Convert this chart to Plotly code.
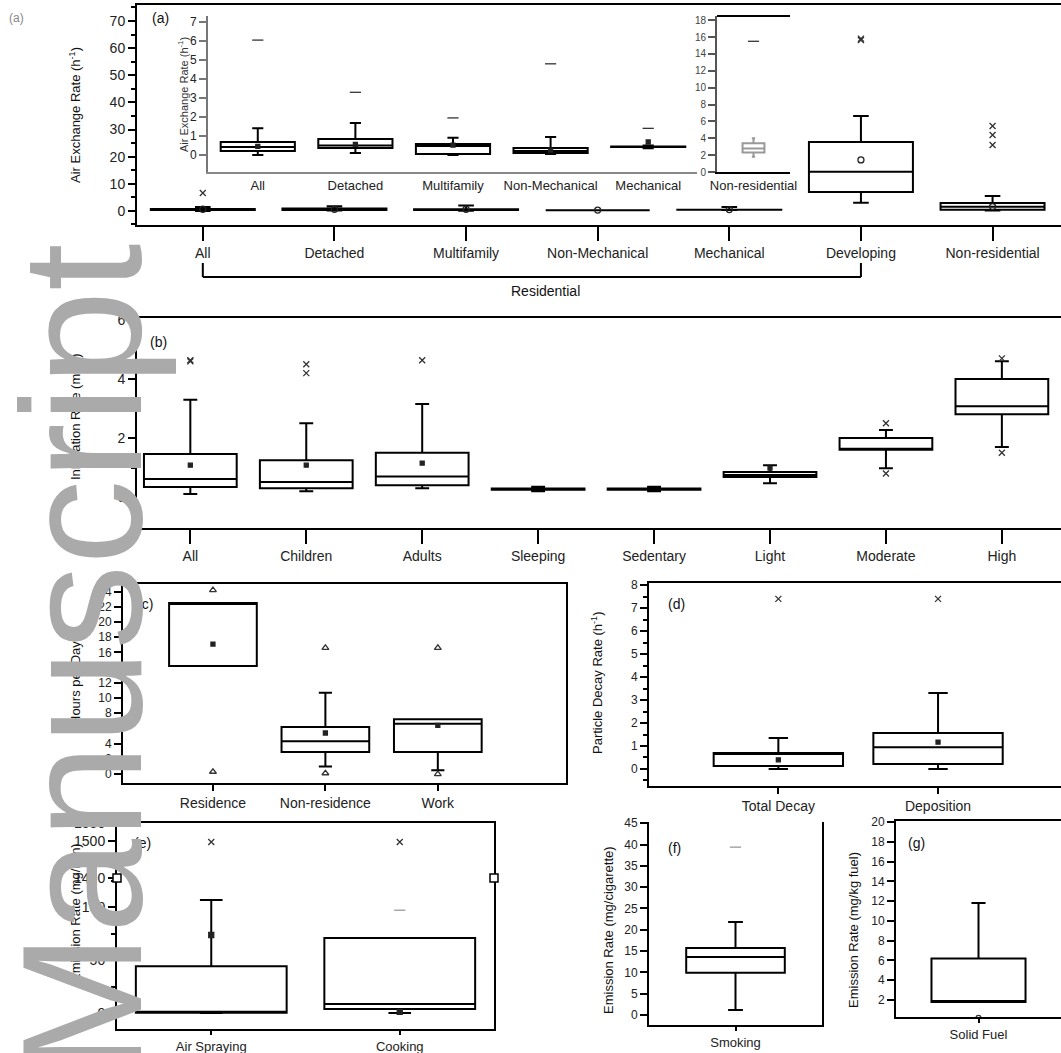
import plotly.graph_objects as go

W, H = 1061, 1053
FONT = "Liberation Sans"

# ---------------- data ----------------
# (a) air exchange rate, main axis
a_cats = ["All", "Detached", "Multifamily", "Non-Mechanical", "Mechanical", "Developing", "Non-residential"]
a_q1 = [0.3, 0.3, 0.3, 0.3, 0.4, 7.0, 0.4]
a_med = [0.45, 0.5, 0.47, 0.25, 0.42, 14.4, 1.5]
a_q3 = [0.7, 0.85, 0.6, 0.4, 0.45, 25.4, 2.9]
a_low = [0.0, 0.1, 0.05, 0.05, 0.3, 3.0, 0.1]
a_up = [1.4, 1.7, 1.95, 0.95, 1.4, 35.0, 5.5]
a_mean = [0.6, 0.6, 0.6, 0.3, 0.5, 18.8, 1.6]
a_out_x = ["All", "Developing", "Developing", "Non-residential", "Non-residential", "Non-residential"]
a_out_y = [6.6, 63.5, 63.0, 24.3, 28.0, 31.3]

# (a) inset, residential categories
ai_cats = ["All", "Detached", "Multifamily", "Non-Mechanical", "Mechanical"]
ai_q1 = [0.21, 0.37, 0.05, 0.1, 0.42]
ai_med = [0.42, 0.5, 0.47, 0.2, 0.42]
ai_q3 = [0.68, 0.84, 0.58, 0.37, 0.45]
ai_low = [0.0, 0.1, 0.0, 0.05, 0.35]
ai_up = [1.4, 1.68, 0.9, 0.95, 0.5]
ai_mean = [0.45, 0.55, 0.52, 0.25, 0.68]
ai_out_x = ["All", "Detached", "Multifamily", "Non-Mechanical", "Mechanical"]
ai_out_y = [6.05, 3.3, 1.95, 4.8, 1.4]

# (a) inset, non-residential
an_cats = ["Non-residential"]
an_q1, an_med, an_q3, an_low, an_up = [2.3], [2.8], [3.4], [1.8], [4.0]
an_out_y = [15.5]

# (b) inhalation rate
b_cats = ["All", "Children", "Adults", "Sleeping", "Sedentary", "Light", "Moderate", "High"]
b_q1 = [0.34, 0.30, 0.40, 0.25, 0.25, 0.68, 1.60, 2.81]
b_med = [0.61, 0.51, 0.70, 0.27, 0.27, 0.75, 1.62, 3.08]
b_q3 = [1.46, 1.25, 1.50, 0.29, 0.29, 0.85, 2.00, 4.00]
b_low = [0.1, 0.2, 0.3, 0.2, 0.2, 0.47, 0.98, 1.70]
b_up = [3.3, 2.5, 3.15, 0.35, 0.35, 1.08, 2.27, 4.6]
b_mean = [1.08, 1.08, 1.15, None, None, 0.98, None, None]
b_out_x = ["All", "All", "Children", "Children", "Adults", "Moderate", "Moderate", "High", "High"]
b_out_y = [4.64, 4.6, 4.2, 4.5, 4.64, 2.5, 0.8, 4.7, 1.5]

# (c) hours per day
c_cats = ["Residence", "Non-residence", "Work"]
c_q1 = [14.2, 2.9, 2.9]
c_med = [22.5, 4.3, 6.6]
c_q3 = [22.5, 6.2, 7.2]
c_low = [14.2, 1.0, 0.5]
c_up = [22.5, 10.7, 7.2]
c_mean = [17.1, 5.4, 6.4]
c_out_x = ["Residence", "Residence", "Non-residence", "Non-residence", "Work", "Work"]
c_out_y = [24.2, 0.3, 16.6, 0.1, 16.6, 0.0]

# (d) particle decay rate
d_cats = ["Total Decay", "Deposition"]
d_q1 = [0.13, 0.22]
d_med = [0.7, 0.95]
d_q3 = [0.7, 1.57]
d_low = [0.0, 0.0]
d_up = [1.35, 3.3]
d_mean = [0.4, 1.17]
d_out_x = ["Total Decay", "Deposition"]
d_out_y = [7.4, 7.4]

# (e) emission rate (broken axis)
e_cats = ["Air Spraying", "Cooking"]
e_q1 = [0.3, 3.8]
e_med = [0.5, 8.5]
e_q3 = [44.0, 70.8]
e_low = [0.0, 0.0]
e_up = [106.6, 70.8]
e_mean = [73.6, 1.0]
e_out_low_x = ["Cooking"]
e_out_low_y = [97.0]
e_out_high_x = ["Air Spraying", "Cooking"]
e_out_high_y = [1498.0, 1498.0]

# (f) smoking
f_cats = ["Smoking"]
f_q1, f_med, f_q3, f_low, f_up = [9.9], [13.6], [15.7], [1.2], [21.8]
f_out_y = [39.4]

# (g) solid fuel
g_cats = ["Solid Fuel"]
g_q1, g_med, g_q3, g_low, g_up = [1.8], [1.8], [6.2], [1.8], [11.8]
g_out_y = [0.2]


# ---------------- helpers ----------------
def dx(l, r):
    return [l / W, min(r / W, 1.0)]


def dy(top, bottom):
    return [1 - bottom / H, 1 - top / H]


def px(p):
    return p / W


def py(p):
    return 1 - p / H


fig = go.Figure()


def add_box(cats, q1, med, q3, low, up, width, ax, color="black"):
    fig.add_trace(go.Box(
        x=cats, q1=q1, median=med, q3=q3, lowerfence=low, upperfence=up,
        width=width, whiskerwidth=0.15, boxpoints=False,
        line=dict(color=color, width=2), fillcolor="rgba(0,0,0,0)",
        xaxis="x" + ax, yaxis="y" + ax, showlegend=False, hoverinfo="skip"))


def add_pts(xs, ys, ax, symbol="x-thin", size=6, color="#333"):
    fig.add_trace(go.Scatter(
        x=xs, y=ys, mode="markers", xaxis="x" + ax, yaxis="y" + ax,
        marker=dict(symbol=symbol, size=size, color=color,
                    line=dict(width=1.3, color=color)),
        showlegend=False, hoverinfo="skip"))


# (a) main
add_box(a_cats, a_q1, a_med, a_q3, a_low, a_up, 0.79, "")
add_pts(a_cats, a_mean, "", symbol="circle-open", size=6, color="#222")
add_pts(a_out_x, a_out_y, "")
# (a) inset
add_box(ai_cats, ai_q1, ai_med, ai_q3, ai_low, ai_up, 0.76, "2")
add_pts(ai_cats, ai_mean, "2", symbol="square", size=4, color="#222")
add_pts(ai_out_x, ai_out_y, "2", symbol="line-ew", size=8)
add_box(an_cats, an_q1, an_med, an_q3, an_low, an_up, 0.3, "3", color="#999")
add_pts(an_cats, an_out_y, "3", symbol="line-ew", size=8)
# (b)
add_box(b_cats, b_q1, b_med, b_q3, b_low, b_up, 0.8, "4")
add_pts(b_cats, b_mean, "4", symbol="square", size=4, color="#222")
add_pts(b_out_x, b_out_y, "4")
# (c)
add_box(c_cats, c_q1, c_med, c_q3, c_low, c_up, 0.78, "5")
add_pts(c_cats, c_mean, "5", symbol="square", size=4, color="#222")
add_pts(c_out_x, c_out_y, "5", symbol="triangle-up-open", size=6)
# (d)
add_box(d_cats, d_q1, d_med, d_q3, d_low, d_up, 0.81, "6")
add_pts(d_cats, d_mean, "6", symbol="square", size=4, color="#222")
add_pts(d_out_x, d_out_y, "6")
# (e)
add_box(e_cats, e_q1, e_med, e_q3, e_low, e_up, 0.8, "7")
add_pts(e_cats, e_mean, "7", symbol="square", size=5, color="#222")
add_pts(e_out_low_x, e_out_low_y, "7", symbol="line-ew", size=8, color="#999")
add_pts(e_out_high_x, e_out_high_y, "8")
# (f)
add_box(f_cats, f_q1, f_med, f_q3, f_low, f_up, 0.57, "9")
add_pts(f_cats, f_out_y, "9", symbol="line-ew", size=8, color="#999")
# (g)
add_box(g_cats, g_q1, g_med, g_q3, g_low, g_up, 0.57, "10")
add_pts(g_cats, g_out_y, "10", symbol="circle-open", size=5)

tickfont = dict(family=FONT, size=14, color="#222")
smallfont = dict(family=FONT, size=12, color="#222")
xfont13 = dict(family=FONT, size=13, color="#222")


def xax(cats, dom, rng, anchor, mirror=False, ticks="outside", font=tickfont, lc="black",
        side="bottom", showlabels=True, ticklen=14):
    return dict(type="category", categoryorder="array", categoryarray=cats,
                domain=dom, range=rng, anchor=anchor, showline=True, linecolor=lc,
                linewidth=2, mirror=mirror, ticks=ticks, ticklen=ticklen, tickwidth=2,
                tickcolor="black", showgrid=False, zeroline=False, automargin=False,
                tickfont=font, tickangle=0, side=side, showticklabels=showlabels)


def yax(dom, rng, anchor, dtick=None, tickvals=None, minor=None, mirror=False, font=tickfont, lc="black"):
    d = dict(domain=dom, range=rng, anchor=anchor, showline=True, linecolor=lc,
             linewidth=2, mirror=mirror, ticks="outside", ticklen=7, tickwidth=2,
             tickcolor=lc, showgrid=False, zeroline=False, automargin=False, tickfont=font)
    if dtick is not None:
        d["dtick"] = dtick
        d["tick0"] = 0
    if tickvals is not None:
        d["tickvals"] = tickvals
    if minor is not None:
        d["minor"] = dict(ticks="outside", ticklen=4, dtick=minor, tickcolor=lc, tickwidth=1.5)
    return d


layout = dict(
    width=W, height=H, margin=dict(l=0, r=0, t=0, b=0),
    paper_bgcolor="white", plot_bgcolor="white", showlegend=False,
    # (a) main
    xaxis=xax(a_cats, dx(137, 1061), [-0.5, 6.52], "y", mirror=True),
    yaxis=yax(dy(5, 225), [-5.2, 75.9], "x", dtick=10, minor=5),
    # (a) inset residential
    xaxis2=xax(ai_cats, dx(208, 697), [-0.51, 4.5], "y2", ticks="", font=xfont13, lc="#888"),
    yaxis2=yax(dy(16, 172), [-0.9, 7.32], "x2", dtick=1, font=smallfont, lc="#777"),
    # (a) inset non-residential
    xaxis3=xax(an_cats, dx(717, 790), [-0.5, 0.5], "y3", ticks="", font=xfont13),
    yaxis3=yax(dy(16, 172), [0, 18.5], "x3", dtick=2, font=dict(family=FONT, size=10, color="#444"), lc="#555"),
    # (b)
    xaxis4=xax(b_cats, dx(137, 1061), [-0.46, 7.51], "y4", mirror=True),
    yaxis4=yax(dy(318, 528), [-1.05, 6.07], "x4", dtick=2, minor=1),
    # (c)
    xaxis5=xax(c_cats, dx(123, 566), [-0.8, 3.14], "y5", mirror=True, ticklen=6),
    yaxis5=yax(dy(584, 783), [-1.18, 25.0], "x5", dtick=2, mirror=True, font=smallfont),
    # (d)
    xaxis6=xax(d_cats, dx(649, 1061), [-0.81, 1.77], "y6", mirror=True, ticklen=6),
    yaxis6=yax(dy(583, 786), [-0.74, 8.09], "x6", dtick=1, minor=0.5, font=smallfont),
    # (e) lower
    xaxis7=xax(e_cats, dx(117, 494), [-0.5, 1.5], "y7", ticklen=4, font=xfont13),
    yaxis7=yax(dy(878, 1029), [-15.1, 127.4], "x7", tickvals=[0, 50, 100], minor=25, mirror=True),
    # (e) upper
    xaxis8=xax(e_cats, dx(117, 494), [-0.5, 1.5], "y8", ticks="", side="top", showlabels=False),
    yaxis8=yax(dy(823, 878), [1400, 1550], "x8", tickvals=[1400, 1450, 1500, 1550], mirror=True),
    # (f)
    xaxis9=xax(f_cats, dx(649, 822), [-0.5, 0.5], "y9", ticklen=4, font=xfont13),
    yaxis9=yax(dy(822, 1025), [-2.35, 45.3], "x9", dtick=5, mirror=True, font=smallfont),
    # (g)
    xaxis10=xax(g_cats, dx(896, 1061), [-0.5, 0.5], "y10", mirror=True, ticklen=4, font=xfont13),
    yaxis10=yax(dy(821, 1017), [0.28, 20.1], "x10", dtick=2, font=smallfont),
)
fig.update_layout(**layout)

ann = []


def text(x, y, s, size=14, angle=0, color="#111", xanchor="center"):
    ann.append(dict(x=px(x), y=py(y), xref="paper", yref="paper", text=s, showarrow=False,
                    textangle=angle, xanchor=xanchor, yanchor="middle",
                    font=dict(family=FONT, size=size, color=color)))


# panel labels
text(16, 18, "(a)", 12, color="#888")
text(160, 18, "(a)", 14)
text(158, 342, "(b)", 14)
text(145, 604, "(c)", 14)
text(676, 604, "(d)", 14)
text(142, 843, "(e)", 14)
text(674, 848, "(f)", 14)
text(916, 843, "(g)", 14)
# y titles
text(75, 115, "Air Exchange Rate (h<sup>-1</sup>)", 13, -90)
text(183, 95, "Air Exchange Rate (h<sup>-1</sup>)", 11, -90, color="#333")
text(75, 417, "Inhalation Rate (m<sup>3</sup>/h)", 13, -90)
text(75, 683, "Hours per Day", 13, -90)
text(597, 683, "Particle Decay Rate (h<sup>-1</sup>)", 13, -90)
text(75, 913, "Emission Rate (mg/min)", 13, -90)
text(608, 930, "Emission Rate (mg/cigarette)", 13, -90)
text(853, 930, "Emission Rate (mg/kg fuel)", 13, -90)
text(545, 291, "Residential", 14)
# watermark
ann.append(dict(x=px(82), y=py(660), xref="paper", yref="paper", text="Manuscript",
                showarrow=False, textangle=-90, xanchor="center", yanchor="middle",
                font=dict(family=FONT, size=170, color="#aaaaaa")))
fig.update_layout(annotations=ann)

shapes = []
# Residential bracket (tied to category positions of the main x axis)
for xc in [0, 5]:
    shapes.append(dict(type="line", xref="x", yref="paper", x0=xc, x1=xc, y0=py(263), y1=py(277),
                       line=dict(color="black", width=2)))
shapes.append(dict(type="line", xref="x", yref="paper", x0=0, x1=5, y0=py(277), y1=py(277),
                   line=dict(color="black", width=2)))
# inset top line for non-residential inset
shapes.append(dict(type="line", xref="paper", yref="paper", x0=px(717), x1=px(790), y0=py(16), y1=py(16),
                   line=dict(color="black", width=2)))
# axis break marks on (e)
for xb in [117, 494]:
    shapes.append(dict(type="rect", xref="paper", yref="paper", x0=px(xb - 4), x1=px(xb + 4),
                       y0=py(882), y1=py(874), line=dict(color="black", width=1.5), fillcolor="white"))
fig.update_layout(shapes=shapes)

fig.write_html("out.html")
